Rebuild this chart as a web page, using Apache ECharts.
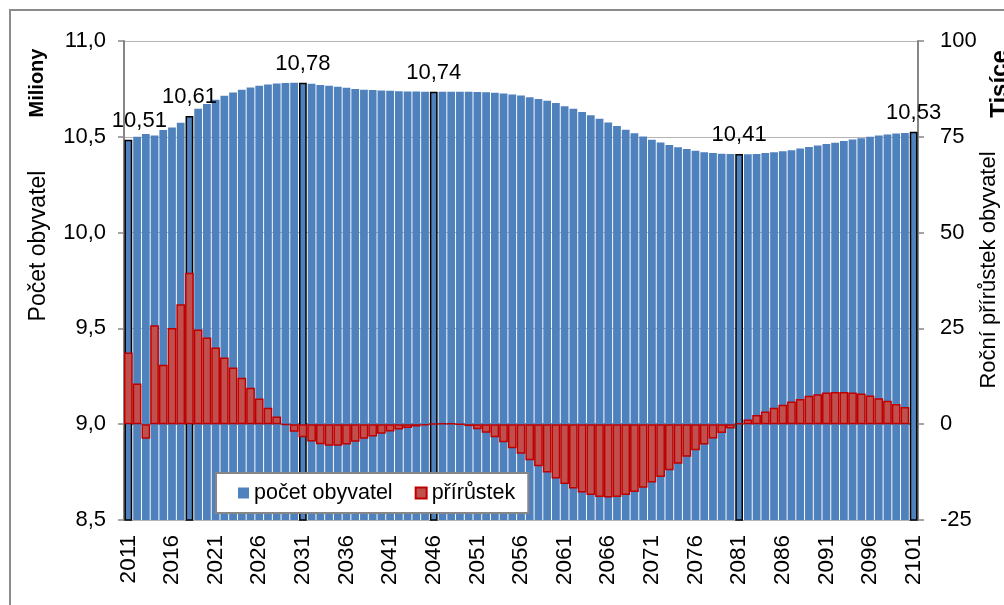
<!DOCTYPE html>
<html lang="cs">
<head>
<meta charset="UTF-8">
<title>Počet obyvatel a roční přírůstek</title>
<script src="https://cdn.jsdelivr.net/npm/echarts@6/dist/echarts.min.js"></script>
<style>
    html, body { margin: 0; padding: 0; background: #fff; }
    #main { width: 1004px; height: 605px; }
</style>
</head>
<body>
<div id="main"></div>
<script>
    // roky 2011 - 2101
    var roky = [];
    for (var r = 2011; r <= 2101; r++) roky.push(String(r));

    // počet obyvatel v milionech
    var pocet = [
        10.484, 10.500, 10.514, 10.507, 10.535, 10.549, 10.573, 10.608, 10.646, 10.671,
        10.693, 10.714, 10.731, 10.745, 10.757, 10.766, 10.773, 10.778, 10.781, 10.782,
        10.782, 10.777, 10.770, 10.766, 10.761, 10.756, 10.750, 10.745, 10.744, 10.742,
        10.740, 10.738, 10.737, 10.737, 10.735, 10.735, 10.735, 10.735, 10.735, 10.735,
        10.734, 10.733, 10.730, 10.726, 10.721, 10.716, 10.707, 10.697, 10.688, 10.676,
        10.660, 10.646, 10.630, 10.613, 10.594, 10.575, 10.556, 10.537, 10.519, 10.502,
        10.484, 10.470, 10.457, 10.446, 10.436, 10.427, 10.420, 10.415, 10.411, 10.410,
        10.410, 10.409, 10.410, 10.415, 10.420, 10.425, 10.430, 10.439, 10.447, 10.455,
        10.462, 10.469, 10.478, 10.486, 10.493, 10.500, 10.507, 10.512, 10.517, 10.520,
        10.526
    ];

    // roční přírůstek v tisících
    var prirustek = [
        18.7, 10.6, -3.8, 25.8, 15.5, 25.1, 31.3, 39.5, 24.7, 22.6,
        20.0, 17.4, 14.8, 12.1, 9.5, 6.7, 4.3, 2.0, -0.2, -2.0,
        -3.4, -4.5, -5.2, -5.6, -5.6, -5.3, -4.6, -3.8, -3.2, -2.5,
        -1.9, -1.4, -1.0, -0.6, -0.3, 0.1, 0.2, 0.2, 0.0, -0.5,
        -1.3, -2.2, -3.4, -4.7, -6.3, -7.7, -9.4, -11.0, -12.6, -14.2,
        -15.6, -16.8, -17.8, -18.5, -19.0, -19.1, -19.0, -18.5, -17.7, -16.6,
        -15.2, -13.8, -12.0, -10.3, -8.5, -6.8, -5.3, -3.7, -2.3, -1.1,
        0.3, 1.2, 2.4, 3.3, 4.3, 5.1, 5.9, 6.6, 7.4, 7.8,
        8.3, 8.4, 8.4, 8.3, 8.0, 7.5, 6.8, 6.1, 5.3, 4.5,
        null
    ];

    // vyznačené roky a jejich popisky
    var vyznacene = ['2011', '2018', '2031', '2046', '2081', '2101'];
    var popisky = ['10,51', '10,61', '10,78', '10,74', '10,41', '10,53'];

    var pismo = 'Liberation Sans, Arial, sans-serif';
    var seda = '#868686';

    function pocetData() {
        return pocet.map(function (v, i) {
            var k = vyznacene.indexOf(roky[i]);
            if (k < 0) return v;
            return {
                value: v,
                itemStyle: { borderColor: '#000', borderWidth: 1.5 },
                label: {
                    show: true,
                    position: 'top',
                    distance: 8,
                    offset: k === 0 ? [11, 0] : [0, 0],
                    formatter: popisky[k],
                    fontSize: 22,
                    color: '#000'
                }
            };
        });
    }

    function rotText(text, x, y, size, bold) {
        return {
            type: 'text', x: x, y: y, rotation: Math.PI / 2, silent: true,
            style: {
                text: text,
                font: (bold ? 'bold ' : '') + size + 'px ' + pismo,
                fill: '#000',
                align: 'center',
                verticalAlign: 'middle'
            }
        };
    }

    var myChart = echarts.init(document.getElementById('main'));
    var option = {
        animation: false,
        textStyle: { fontFamily: pismo },
        title: {
            text: 'Počet obyvatel (v mil.) a roční přírůstek (v tis.) podle projekce, 2011–2101',
            left: 'center',
            top: -27,
            textStyle: { fontSize: 20, lineHeight: 20, fontWeight: 'bold', color: '#000' }
        },
        grid: { left: 124, right: 86, top: 41, bottom: 85 },
        legend: {
            left: 216,
            top: 473,
            padding: [9, 13, 9, 22],
            itemWidth: 11,
            itemHeight: 11,
            itemGap: 22,
            backgroundColor: '#fff',
            borderColor: seda,
            borderWidth: 2,
            borderRadius: 0,
            textStyle: { fontSize: 21.5, color: '#000' },
            data: [
                { name: 'počet obyvatel', icon: 'rect' },
                { name: 'přírůstek', icon: 'rect' }
            ]
        },
        xAxis: [
            {
                type: 'category',
                data: roky,
                axisLine: { lineStyle: { color: seda, width: 2 } },
                axisTick: { interval: 0, length: 6, lineStyle: { color: seda, width: 1.5 } },
                axisLabel: { interval: 4, rotate: 90, margin: 15, fontSize: 22.5, color: '#000' },
                splitLine: { show: false }
            },
            {
                type: 'category',
                data: roky,
                show: false
            }
        ],
        yAxis: [
            {
                type: 'value',
                min: 8.5,
                max: 11,
                interval: 0.5,
                axisLine: { show: true, lineStyle: { color: seda, width: 2 } },
                axisTick: { show: true, length: 6, lineStyle: { color: seda, width: 1.5 } },
                axisLabel: {
                    margin: 18,
                    fontSize: 22,
                    color: '#000',
                    formatter: function (v) { return v.toFixed(1).replace('.', ','); }
                },
                splitLine: { lineStyle: { color: '#b4b4b4', width: 1 } }
            },
            {
                type: 'value',
                position: 'right',
                min: -25,
                max: 100,
                interval: 25,
                axisLine: { show: true, lineStyle: { color: seda, width: 2 } },
                axisTick: { show: true, length: 6, lineStyle: { color: seda, width: 1.5 } },
                axisLabel: { margin: 22, fontSize: 22, color: '#000' },
                splitLine: { show: false }
            }
        ],
        graphic: [
            {
                type: 'rect', silent: true, z: -10,
                shape: { x: 10, y: 10, width: 1200, height: 800 },
                style: { fill: 'none', stroke: '#8c8c8c', lineWidth: 2 }
            },
            rotText('Miliony', 37, 83, 20, true),
            rotText('Počet obyvatel', 39, 246, 23, false),
            rotText('Tisíce', 1000, 84, 24, true),
            rotText('Roční přírůstek obyvatel', 989, 270, 22, false)
        ],
        series: [
            {
                name: 'počet obyvatel',
                type: 'bar',
                xAxisIndex: 0,
                yAxisIndex: 0,
                barCategoryGap: '11%',
                itemStyle: { color: '#4F81BD' },
                data: pocetData()
            },
            {
                name: 'přírůstek',
                type: 'bar',
                xAxisIndex: 1,
                yAxisIndex: 1,
                barCategoryGap: 0,
                itemStyle: { color: '#C0504D', borderColor: '#C00000', borderWidth: 1.5 },
                data: prirustek
            }
        ]
    };
    myChart.setOption(option);
</script>
</body>
</html>
